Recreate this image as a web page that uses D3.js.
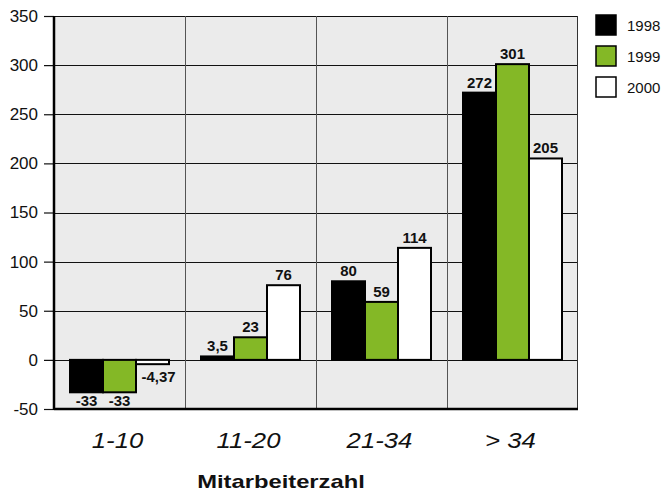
<!DOCTYPE html>
<html>
<head>
<meta charset="utf-8">
<script src="https://cdn.jsdelivr.net/npm/d3@7"></script>
<style>
  html, body { margin: 0; padding: 0; background: #fff; }
  svg { display: block; font-family: "Liberation Sans", Arial, Helvetica, sans-serif; }
</style>
</head>
<body>
<svg id="chart" width="665" height="494"></svg>
<script>
// Employee-size classes and yearly values
const categories = ["1-10", "11-20", "21-34", "> 34"];
const years = ["1998", "1999", "2000"];
const values1998 = [-33, 3.5, 80, 272];
const values1999 = [-33, 23, 59, 301];
const values2000 = [-4.37, 76, 114, 205];
const yTicks = [-50, 0, 50, 100, 150, 200, 250, 300, 350];
const axisTitle = "Mitarbeiterzahl";

const seriesValues = [values1998, values1999, values2000];
const colors = ["#000000", "#84b826", "#ffffff"];

const svg = d3.select("#chart");
const margin = { left: 54, right: 87, top: 16, bottom: 85 };
const W = 665, H = 494;
const x0 = margin.left, x1 = W - margin.right;
const yTop = margin.top, yBot = H - margin.bottom;

const x = d3.scaleBand().domain(categories).range([x0, x1]).paddingInner(0).paddingOuter(0);
const xInner = d3.scaleBand().domain(years).range([0, x.bandwidth()]).paddingInner(0).paddingOuter(0.485);
const y = d3.scaleLinear().domain([-50, 350]).range([yBot, yTop]);

const fmt = v => String(v).replace(".", ",");

// text placed with a horizontal stretch (wide lettering)
function wideText(sel, sx) {
  return sel.attr("transform", d => `translate(${d.tx},${d.ty}) scale(${sx},1)`);
}

// plot background
svg.append("rect").attr("x", x0).attr("y", yTop).attr("width", x1 - x0).attr("height", yBot - yTop)
  .attr("fill", "#ebebeb");

// horizontal grid
svg.append("g").selectAll("line").data(yTicks).join("line")
  .attr("x1", x0).attr("x2", x1)
  .attr("y1", d => Math.round(y(d)) + 0.5).attr("y2", d => Math.round(y(d)) + 0.5)
  .attr("stroke", "#111").attr("stroke-width", 1.2);

// vertical category separators
svg.append("g").selectAll("line").data(categories.slice(1)).join("line")
  .attr("x1", d => Math.round(x(d)) + 0.5).attr("x2", d => Math.round(x(d)) + 0.5)
  .attr("y1", yTop).attr("y2", yBot)
  .attr("stroke", "#555").attr("stroke-width", 1);

// frame
svg.append("line").attr("x1", x1 - 0.5).attr("x2", x1 - 0.5).attr("y1", yTop).attr("y2", yBot)
  .attr("stroke", "#333").attr("stroke-width", 1);

// bars
const data = [];
categories.forEach((c, i) => years.forEach((yr, j) => data.push({ c, yr, j, v: seriesValues[j][i] })));

svg.append("g").selectAll("rect").data(data).join("rect")
  .attr("x", d => x(d.c) + xInner(d.yr))
  .attr("width", xInner.bandwidth())
  .attr("y", d => y(Math.max(0, d.v)))
  .attr("height", d => Math.abs(y(d.v) - y(0)))
  .attr("fill", d => colors[d.j])
  .attr("stroke", "#000").attr("stroke-width", 2);

// value labels
data.forEach(d => {
  const cx = x(d.c) + xInner(d.yr) + xInner.bandwidth() / 2;
  if (d.v >= 0) { d.tx = cx; d.ty = y(d.v) - 5; }
  else if (d.v > -10) { d.tx = cx + 6; d.ty = y(0) + 22; }
  else { d.tx = cx; d.ty = y(d.v) + 14; }
});
wideText(svg.append("g").selectAll("text").data(data).join("text"), 1.07)
  .attr("text-anchor", "middle")
  .attr("font-size", 14).attr("font-weight", "bold").attr("fill", "#111")
  .text(d => fmt(d.v));

// y axis
const yAxis = d3.axisLeft(y).tickValues(yTicks).tickSize(10).tickPadding(6).tickFormat(d => d);
const gy = svg.append("g").attr("transform", `translate(${x0},0)`).call(yAxis);
gy.select(".domain").remove();
gy.selectAll(".tick line").attr("stroke", "#111").attr("stroke-width", 1.2);
gy.selectAll(".tick text").attr("font-size", 17).attr("fill", "#111")
  .attr("font-family", "'Liberation Sans', Arial, sans-serif");

// axis lines: thick left and bottom
svg.append("line").attr("x1", x0).attr("x2", x0).attr("y1", yTop).attr("y2", yBot + 1)
  .attr("stroke", "#000").attr("stroke-width", 2.5);
svg.append("line").attr("x1", x0).attr("x2", x1).attr("y1", yBot).attr("y2", yBot)
  .attr("stroke", "#000").attr("stroke-width", 2.5);

// category labels
const catData = categories.map(c => ({ c, tx: x(c) + x.bandwidth() / 2 - 2, ty: 448 }));
wideText(svg.append("g").selectAll("text").data(catData).join("text"), 1.12)
  .attr("text-anchor", "middle")
  .attr("font-size", 23).attr("font-style", "italic").attr("fill", "#111")
  .text(d => d.c);

// axis title
wideText(svg.append("g").selectAll("text").data([{ t: axisTitle, tx: 281, ty: 488 }]).join("text"), 1.25)
  .attr("text-anchor", "middle")
  .attr("font-size", 19).attr("font-weight", "bold").attr("fill", "#111")
  .text(d => d.t);

// legend
const lg = svg.append("g").attr("transform", "translate(596,15)");
const items = lg.selectAll("g").data(years).join("g").attr("transform", (d, i) => `translate(0,${i * 31})`);
items.append("rect").attr("x", 0).attr("y", 0).attr("width", 20).attr("height", 20)
  .attr("fill", (d, i) => colors[i]).attr("stroke", "#000").attr("stroke-width", 1.5);
items.append("text").attr("x", 31).attr("y", 16).attr("font-size", 15).attr("fill", "#111").text(d => d);
</script>
</body>
</html>
